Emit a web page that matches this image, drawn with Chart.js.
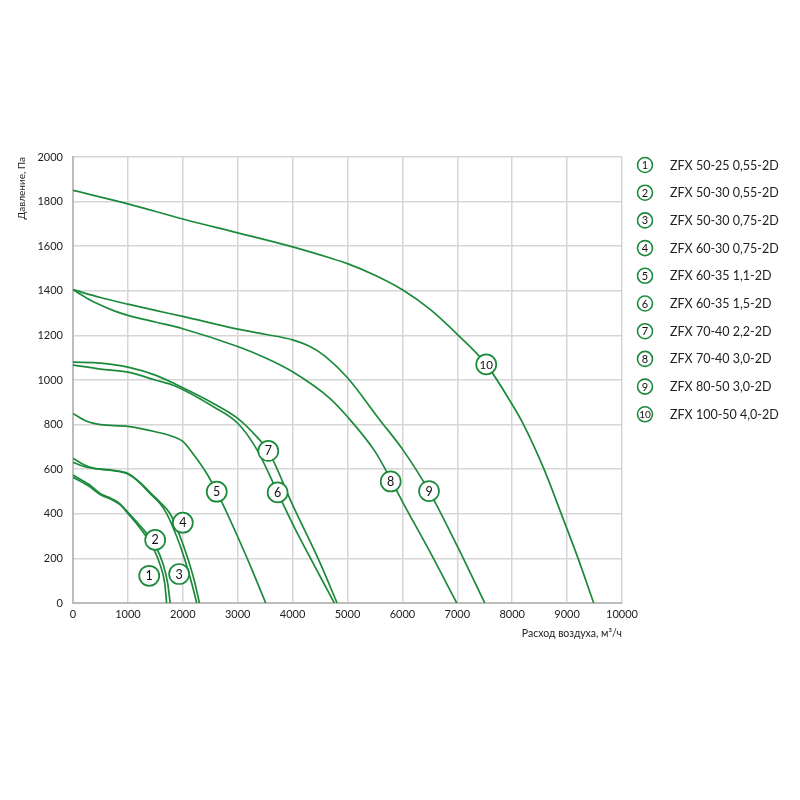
<!DOCTYPE html>
<html>
<head>
<meta charset="utf-8">
<script src="https://cdn.jsdelivr.net/npm/chart.js@4"></script>
<style>
    html, body { margin: 0; padding: 0; background: #ffffff; }
    #wrap { width: 800px; height: 800px; }
</style>
</head>
<body>
<div id="wrap"><canvas id="fanChart" width="800" height="800"></canvas></div>
<script>
// Кривые вентиляторов: [расход м3/ч, давление Па]
const curve1 = [[0,564],[300,522],[500,485],[700,464],[850,442],[1000,402],[1160,355],[1315,305],[1466,245],[1588,170],[1670,90],[1705,0]];
const curve2 = [[0,574],[300,530],[500,490],[700,468],[850,446],[1000,407],[1200,353],[1350,310],[1515,250],[1640,175],[1725,88],[1770,0]];
const curve3 = [[0,631],[200,612],[376,603],[740,593],[1000,578],[1224,537],[1406,490],[1588,445],[1709,400],[1891,297],[2030,200],[2150,100],[2254,0]];
const curve4 = [[0,649],[200,620],[376,605],[740,595],[1000,581],[1224,540],[1406,495],[1600,448],[1770,400],[1952,297],[2091,200],[2210,100],[2303,0]];
const curve5 = [[0,850],[250,815],[500,800],[1000,792],[1500,768],[1800,748],[2000,725],[2200,665],[2436,581],[2618,499],[3000,297],[3250,155],[3510,0]];
const curve6 = [[0,1067],[500,1049],[1000,1035],[1500,1000],[1860,973],[2557,880],[3000,806],[3345,690],[3727,496],[4000,355],[4500,120],[4760,0]];
const curve7 = [[0,1080],[500,1076],[1000,1058],[1500,1022],[1860,982],[2557,895],[3000,828],[3345,746],[3557,682],[4000,440],[4500,180],[4810,0]];
const curve8 = [[0,1405],[250,1367],[500,1336],[750,1310],[1000,1290],[1500,1260],[2000,1230],[3000,1150],[3500,1100],[4000,1037],[4678,918],[5000,835],[5500,680],[5787,555],[6000,455],[6500,230],[6990,0]];
const curve9 = [[0,1405],[500,1370],[1000,1340],[1500,1312],[2000,1285],[3000,1228],[3500,1205],[4000,1180],[4300,1152],[4600,1105],[5000,1010],[5588,821],[6000,690],[6485,502],[7000,255],[7500,0]];
const curve10 = [[0,1850],[1000,1790],[2000,1722],[3000,1660],[4000,1597],[4673,1548],[5000,1522],[5500,1470],[6000,1405],[6500,1318],[7000,1205],[7527,1070],[8000,890],[8193,807],[8587,596],[8890,402],[9200,200],[9484,0]];

const curves = [curve1, curve2, curve3, curve4, curve5, curve6, curve7, curve8, curve9, curve10];

// Положение кружков с номерами на кривых
const labelFlow = [1388, 1497, 1933, 2000, 2618, 3727, 3557, 5787, 6485, 7527];
const labelPressure = [122, 283, 130, 360, 499, 496, 682, 545, 502, 1070];

const modelNames = [
    'ZFX 50-25 0,55-2D',
    'ZFX 50-30 0,55-2D',
    'ZFX 50-30 0,75-2D',
    'ZFX 60-30 0,75-2D',
    'ZFX 60-35 1,1-2D',
    'ZFX 60-35 1,5-2D',
    'ZFX 70-40 2,2-2D',
    'ZFX 70-40 3,0-2D',
    'ZFX 80-50 3,0-2D',
    'ZFX 100-50 4,0-2D'
];

const xTicks = [0, 1000, 2000, 3000, 4000, 5000, 6000, 7000, 8000, 9000, 10000];
const yTicks = [0, 200, 400, 600, 800, 1000, 1200, 1400, 1600, 1800, 2000];

const GREEN = '#1b8a3b';
const FONT = 'Lato, "Open Sans", sans-serif';

const datasets = curves.map((c, i) => ({
    label: String(i + 1),
    data: c.map(p => ({ x: p[0], y: p[1] })),
    borderColor: GREEN,
    borderWidth: 1.7,
    pointRadius: 0,
    fill: false,
    cubicInterpolationMode: 'monotone',
    order: 1
}));

// Кружки-метки
datasets.push({
    label: 'labels',
    data: labelFlow.map((f, i) => ({ x: f, y: labelPressure[i] })),
    showLine: false,
    pointRadius: 10,
    pointBorderWidth: 1.7,
    pointBackgroundColor: '#ffffff',
    pointBorderColor: GREEN,
    order: 0
});

const labelNumbers = {
    id: 'labelNumbers',
    afterDatasetsDraw(chart) {
        const meta = chart.getDatasetMeta(curves.length);
        const ctx = chart.ctx;
        ctx.save();
        ctx.fillStyle = '#111';
        ctx.textAlign = 'center';
        ctx.textBaseline = 'middle';
        meta.data.forEach((pt, i) => {
            ctx.font = (i === 9 ? '11.5px ' : '12.5px ') + FONT;
            ctx.fillText(String(i + 1), pt.x, pt.y + 0.5);
        });
        ctx.restore();
    }
};

// Легенда справа
const sideLegend = {
    id: 'sideLegend',
    afterDraw(chart) {
        const ctx = chart.ctx;
        ctx.save();
        modelNames.forEach((name, i) => {
            const y = 165 + i * 27.7;
            ctx.beginPath();
            ctx.arc(645, y, 7.5, 0, Math.PI * 2);
            ctx.fillStyle = '#fff';
            ctx.fill();
            ctx.lineWidth = 1.6;
            ctx.strokeStyle = GREEN;
            ctx.stroke();
            ctx.fillStyle = '#111';
            ctx.textAlign = 'center';
            ctx.textBaseline = 'middle';
            ctx.font = (i === 9 ? '10px ' : '11px ') + FONT;
            ctx.fillText(String(i + 1), 645, y + 0.5);
            ctx.textAlign = 'left';
            ctx.font = '12.5px ' + FONT;
            ctx.fillStyle = '#222';
            ctx.fillText(name, 670, y + 0.5);
        });
        ctx.restore();
    }
};

new Chart(document.getElementById('fanChart').getContext('2d'), {
    type: 'line',
    data: { datasets: datasets },
    options: {
        responsive: false,
        animation: false,
        events: [],
        layout: { padding: { left: 0, top: 157, right: 178, bottom: 160 } },
        plugins: {
            legend: { display: false },
            tooltip: { enabled: false }
        },
        scales: {
            x: {
                type: 'linear',
                min: 0,
                max: 10000,
                afterBuildTicks: (scale) => { scale.ticks = xTicks.map(v => ({ value: v })); },
                afterFit: (scale) => { scale.height = 37; },
                grid: { color: '#d6d6d6', lineWidth: 1.5, drawTicks: false },
                border: { color: '#bdbdbd', width: 2 },
                ticks: {
                    color: '#222', padding: 5, maxRotation: 0,
                    font: { family: FONT, size: 11 },
                    callback: (v) => String(v)
                },
                title: {
                    display: true,
                    text: 'Расход воздуха, м³/ч',
                    align: 'end',
                    color: '#222',
                    padding: { top: 0, bottom: 0 },
                    font: { family: FONT, size: 10.5 }
                }
            },
            y: {
                type: 'linear',
                min: 0,
                max: 2000,
                afterBuildTicks: (scale) => { scale.ticks = yTicks.map(v => ({ value: v })); },
                afterFit: (scale) => { scale.width = 73; },
                grid: { color: '#d6d6d6', lineWidth: 1.5, drawTicks: false },
                border: { color: '#bdbdbd', width: 2 },
                ticks: {
                    color: '#222', padding: 10,
                    font: { family: FONT, size: 11 },
                    callback: (v) => String(v)
                },
                title: {
                    display: true,
                    text: 'Давление, Па',
                    align: 'end',
                    color: '#222',
                    padding: { top: 16, bottom: 0 },
                    font: { family: FONT, size: 10 }
                }
            }
        }
    },
    plugins: [labelNumbers, sideLegend]
});
</script>
</body>
</html>
